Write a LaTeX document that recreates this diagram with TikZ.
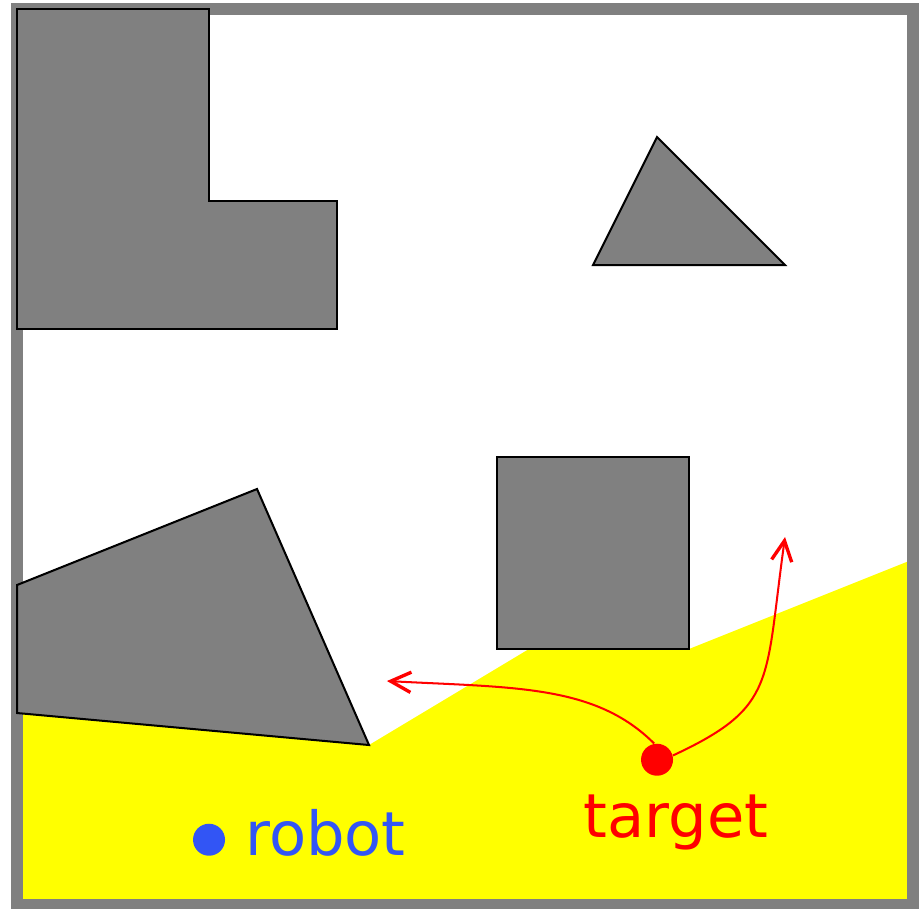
\documentclass[tikz,border=0pt]{standalone}
\usepackage{fontspec}
\usetikzlibrary{arrows.meta, positioning}
\newfontfamily\labelfont{DejaVu Sans}
\definecolor{robotblue}{RGB}{50,85,245}
\definecolor{seenyellow}{RGB}{255,255,0}
\definecolor{obstgray}{RGB}{128,128,128}

\begin{document}
\begin{tikzpicture}[
    obstacle/.style={draw=black, fill=obstgray, line width=0.9pt},
    seen/.style={fill=seenyellow},
    wall/.style={draw=obstgray, line width=0.1875cm},
    agent/.style={circle, inner sep=0pt, minimum size=0.5cm},
    moveto/.style={draw=red, line width=0.9pt, -{Straight Barb[length=9pt, width=9pt, line width=1.5pt]}},
    tag/.style={font=\labelfont\fontsize{27}{32}\selectfont, inner sep=0pt}
]
    \useasboundingbox (-0.266,-0.047) rectangle (14.109,14.141);

    % visible region seen from the robot
    \fill[seen] (0,0) -- (14,0) -- (14,5.4) -- (10.5,4) -- (8,4) -- (5.5,2.5) -- (0,3) -- cycle;

    % outer wall
    \draw[wall] (0,0) rectangle (14,14);

    % obstacles
    \draw[obstacle] (0,14) -- (3,14) -- (3,11) -- (5,11) -- (5,9) -- (0,9) -- cycle;
    \draw[obstacle] (10,12) -- (9,10) -- (12,10) -- cycle;
    \draw[obstacle] (7.5,4) rectangle (10.5,7);
    \draw[obstacle] (0,5) -- (3.75,6.5) -- (5.5,2.5) -- (0,3) -- cycle;

    % robot and target
    \node[agent, fill=robotblue, name=robot] at (3,1.02) {};
    \node[tag, text=robotblue, anchor=base west, name=robottext] at (3.56,0.78) {robot};

    \node[agent, fill=red, name=target] at (10,2.27) {};
    \node[tag, text=red, anchor=base, name=targettext] at (10.3,1.05) {target};

    % possible moves of the target
    \coordinate (escleft) at (5.78,3.5);
    \coordinate (escup) at (12,5.75);
    \draw[moveto] (target.100) to[out=135, in=-3, out distance=1.3cm, in distance=2cm] (escleft);
    \draw[moveto] (target.15) to[out=25, in=-98, out distance=1.8cm, in distance=2.3cm] (escup);

\end{tikzpicture}
\end{document}
